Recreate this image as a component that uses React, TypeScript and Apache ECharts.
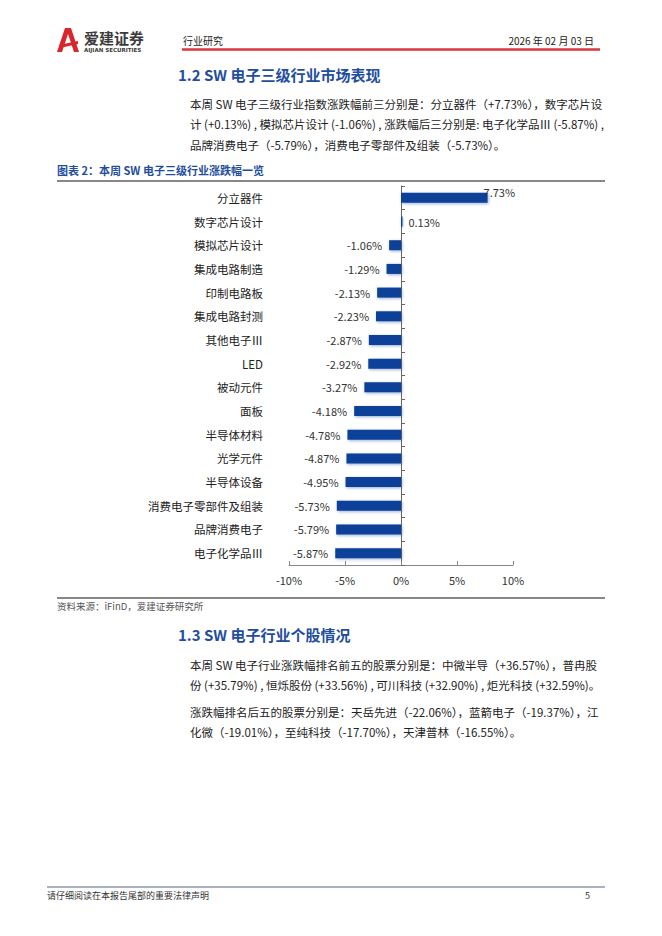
import React, { useEffect, useRef } from "react";
import * as echarts from "echarts";

const categories = [
  "分立器件",
  "数字芯片设计",
  "模拟芯片设计",
  "集成电路制造",
  "印制电路板",
  "集成电路封测",
  "其他电子Ⅲ",
  "LED",
  "被动元件",
  "面板",
  "半导体材料",
  "光学元件",
  "半导体设备",
  "消费电子零部件及组装",
  "品牌消费电子",
  "电子化学品Ⅲ",
];
const changes = [7.73, 0.13, -1.06, -1.29, -2.13, -2.23, -2.87, -2.92, -3.27, -4.18, -4.78, -4.87, -4.95, -5.73, -5.79, -5.87];
const xMin = -10;
const xMax = 10;
const xStep = 5;

const para1 = [
  "本周 SW 电子三级行业指数涨跌幅前三分别是：分立器件（+7.73%），数字芯片设",
  "计 (+0.13%) , 模拟芯片设计 (-1.06%) , 涨跌幅后三分别是: 电子化学品Ⅲ (-5.87%) ,",
  "品牌消费电子（-5.79%），消费电子零部件及组装（-5.73%）。",
];
const para2 = [
  "本周 SW 电子行业涨跌幅排名前五的股票分别是：中微半导（+36.57%），普冉股",
  "份 (+35.79%) , 恒烁股份 (+33.56%) , 可川科技 (+32.90%) , 炬光科技 (+32.59%)。",
];
const para3 = [
  "涨跌幅排名后五的股票分别是：天岳先进（-22.06%），蓝箭电子（-19.37%），江",
  "化微（-19.01%），至纯科技（-17.70%），天津普林（-16.55%）。",
];

const FONT = '"Noto Sans CJK SC", "Noto Sans", sans-serif';
const BLUE = "#1f4e9e";

function txt(text: string, x: number, y: number, size: number, fill: string, opts: any = {}) {
  return {
    type: "text",
    x,
    y,
    silent: true,
    style: {
      text,
      fontSize: size,
      fontFamily: opts.family || FONT,
      fontWeight: opts.bold ? "bold" : "normal",
      fill,
      align: opts.align || "left",
      verticalAlign: "middle",
    },
  };
}
function hline(x1: number, x2: number, y: number, stroke: string, w: number) {
  return { type: "line", silent: true, shape: { x1, y1: y, x2, y2: y }, style: { stroke, lineWidth: w } };
}

export default function App() {
  const ref = useRef<HTMLDivElement>(null);
  useEffect(() => {
    if (!ref.current) return;
    const chart = echarts.init(ref.current, undefined, { renderer: "svg" });
    const graphics: any[] = [];
    // logo
    graphics.push({
      type: "polygon",
      silent: true,
      shape: { points: [[57, 52], [65, 28], [71, 28], [79, 52], [74, 52], [68, 34], [62, 52]] },
      style: { fill: "#d9262c" },
    });
    graphics.push({
      type: "polygon",
      silent: true,
      shape: { points: [[59, 45], [78, 41], [78, 44], [60, 48]] },
      style: { fill: "#d9262c" },
    });
    graphics.push(txt("爱建证券", 84, 37, 15, "#3b3b3b", { bold: true }));
    graphics.push(txt("AIJIAN SECURITIES", 84, 50, 5.5, "#3b3b3b", { bold: true, family: "DejaVu Sans" }));
    graphics.push(txt("行业研究", 183, 40, 10, "#222"));
    graphics.push(txt("2026 年 02 月 03 日", 594, 40, 10, "#222", { align: "right" }));
    graphics.push(hline(182, 600, 49.5, "#d9363e", 2.5));
    // section 1.2
    graphics.push(txt("1.2 SW 电子三级行业市场表现", 178, 74, 15, BLUE, { bold: true }));
    [104, 124, 145].forEach((y, i) => graphics.push(txt(para1[i], 190, y, 11.5, "#222")));
    // caption
    graphics.push(txt("图表 2：本周 SW 电子三级行业涨跌幅一览", 57, 170, 11, BLUE, { bold: true }));
    graphics.push(hline(57, 605, 181, "#111", 1));
    graphics.push(hline(57, 605, 598, "#111", 1));
    graphics.push(txt("资料来源：iFinD，爱建证券研究所", 57, 606, 9.5, "#555"));
    // section 1.3
    graphics.push(txt("1.3 SW 电子行业个股情况", 178, 634, 15, BLUE, { bold: true }));
    [665, 685].forEach((y, i) => graphics.push(txt(para2[i], 190, y, 11.5, "#222")));
    [712, 732].forEach((y, i) => graphics.push(txt(para3[i], 190, y, 11.5, "#222")));
    // footer
    graphics.push(hline(47, 605, 887, "#2a3f6b", 0.8));
    graphics.push(txt("请仔细阅读在本报告尾部的重要法律声明", 47, 895, 9, "#333"));
    graphics.push(txt("5", 590, 895, 9, "#333", { align: "right" }));

    const data = changes.map((v, i) => {
      let label: any;
      if (i === 0) {
        label = { position: "right", distance: 0, offset: [-4, -6] };
      } else if (v >= 0) {
        label = { position: "right", distance: 6 };
      } else {
        label = { position: "left", distance: 7 };
      }
      return { value: v, label };
    });

    chart.setOption({
      animation: false,
      backgroundColor: "#fff",
      textStyle: { fontFamily: FONT },
      graphic: graphics,
      grid: { left: 289, right: 149, top: 186, bottom: 371, containLabel: false },
      xAxis: {
        type: "value",
        min: xMin,
        max: xMax,
        interval: xStep,
        axisLine: { show: true, lineStyle: { color: "#888", width: 1 } },
        axisTick: { show: true, inside: true, length: 4, lineStyle: { color: "#888" } },
        splitLine: { show: false },
        axisLabel: { formatter: "{value}%", color: "#333", fontSize: 11, margin: 9, fontFamily: FONT },
      },
      yAxis: {
        type: "category",
        data: categories,
        inverse: true,
        axisLine: { show: true, onZero: true, lineStyle: { color: "#666", width: 1 } },
        axisTick: { show: true, inside: true, length: 4, lineStyle: { color: "#666" } },
        axisLabel: { margin: 26, fontSize: 11.5, color: "#222", fontFamily: FONT },
      },
      series: [
        {
          type: "bar",
          data,
          barWidth: 10,
          itemStyle: {
            color: "#0b3f99",
            shadowBlur: 3,
            shadowColor: "rgba(30,70,160,0.45)",
            shadowOffsetX: 1,
            shadowOffsetY: 1,
          },
          label: {
            show: true,
            formatter: (p: any) => p.value.toFixed(2) + "%",
            color: "#333",
            fontSize: 11,
            fontFamily: FONT,
          },
        },
      ],
    });
    return () => chart.dispose();
  }, []);
  return (
    <div
      ref={ref}
      style={{ position: "absolute", left: 0, top: 0, width: 662, height: 936, background: "#fff" }}
    />
  );
}
